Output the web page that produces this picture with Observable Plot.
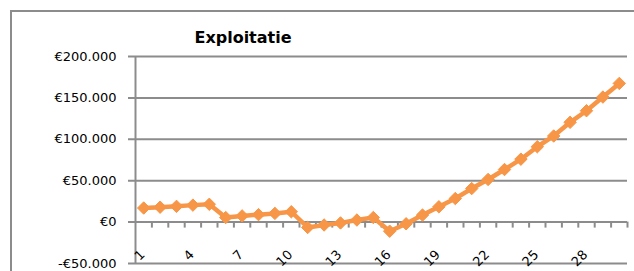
<!DOCTYPE html>
<html>
<head>
<meta charset="utf-8">
<script src="https://cdn.jsdelivr.net/npm/d3@7"></script>
<script src="https://cdn.jsdelivr.net/npm/@observablehq/plot@0.6"></script>
<style>
  html, body { margin: 0; padding: 0; background: #fff; }
  #wrap { position: relative; width: 634px; height: 271px; overflow: hidden; }
  #border { position: absolute; left: 10px; top: 10px; width: 700px; height: 400px; border: 2px solid #8c8c8c; box-sizing: border-box; }
  #title { position: absolute; left: 243px; top: 28px; transform: translateX(-50%); font: bold 16px "DejaVu Sans", sans-serif; color: #000; white-space: nowrap; }
  #chart { position: absolute; left: 0; top: 0; }
</style>
</head>
<body>
<div id="wrap">
  <div id="border"></div>
  <div id="chart"></div>
  <div id="title">Exploitatie</div>
</div>
<script>
const title = "Exploitatie";
const periods = d3.range(1, 31);
const values = [17000, 18000, 19000, 20500, 21500, 5500, 7500, 9000, 10500, 12500,
  -6500, -3500, -1000, 2500, 5500, -11000, -2000, 8500, 18500, 28500,
  40500, 51500, 63500, 76000, 91000, 104000, 120500, 134500, 151000, 167500];
const yTicks = [-50000, 0, 50000, 100000, 150000, 200000];
const yTickLabels = ["-€50.000", "€0", "€50.000", "€100.000", "€150.000", "€200.000"];
const xTickLabels = [1, 4, 7, 10, 13, 16, 19, 22, 25, 28];

const data = periods.map((p, i) => ({period: p, value: values[i]}));
const boundaries = periods.map(p => p + 0.5);
const grid = "#8c8c8c";
const orange = "#F79646";

const chart = Plot.plot({
  width: 634,
  height: 271,
  marginLeft: 135,
  marginRight: 7,
  marginTop: 56,
  marginBottom: 8,
  style: {fontFamily: "DejaVu Sans, sans-serif", fontSize: "13px", background: "transparent", color: "#000"},
  x: {domain: [0.5, 30.5], axis: null},
  y: {domain: [-50000, 200000], axis: null},
  marks: [
    Plot.ruleY(yTicks, {stroke: grid, strokeWidth: 2, insetLeft: -7}),
    Plot.ruleX([0.5], {stroke: grid, strokeWidth: 2}),
    Plot.ruleX(boundaries, {y1: 0, y2: 0, insetBottom: -6, stroke: grid, strokeWidth: 2}),
    Plot.axisY({ticks: yTicks, tickFormat: d => yTickLabels[yTicks.indexOf(d)], tickSize: 0, tickPadding: 19, fontSize: 13, label: null}),
    Plot.axisX({ticks: xTickLabels, tickFormat: d => String(d), tickSize: 0, tickPadding: 0, tickRotate: -45, dy: -11, dx: -1, fontSize: 13, label: null}),
    Plot.line(data, {x: "period", y: "value", stroke: orange, strokeWidth: 4.5, strokeLinejoin: "round"}),
    Plot.dot(data, {x: "period", y: "value", symbol: "diamond2", r: 5.6, fill: orange, stroke: orange, strokeWidth: 1})
  ]
});
document.getElementById("chart").appendChild(chart);
</script>
</body>
</html>
